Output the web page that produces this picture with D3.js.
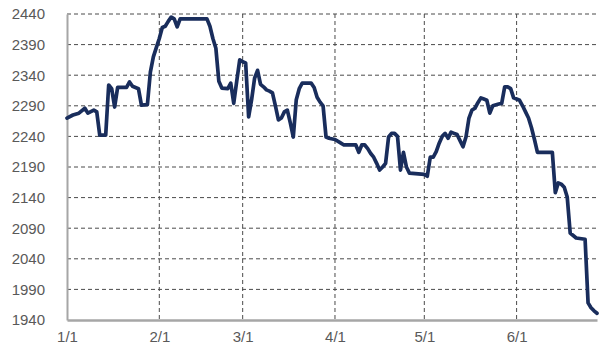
<!DOCTYPE html>
<html>
<head>
<meta charset="utf-8">
<script src="https://cdn.jsdelivr.net/npm/d3@7"></script>
<style>
  html, body { margin: 0; padding: 0; background: #ffffff; }
  svg { display: block; }
  .tick text { font-family: "Liberation Sans", Arial, sans-serif; font-size: 15px; fill: #595959; }
</style>
</head>
<body>
<svg id="chart" width="607" height="349"></svg>
<script>
// Daily closing level, first half of the year (MM-DD)
const dates = [
  "01-01","01-03","01-05","01-07","01-08","01-10","01-11","01-12","01-14","01-15",
  "01-16","01-17","01-18","01-21","01-22","01-23","01-25","01-26","01-28","01-29",
  "01-30","01-31","02-01","02-02","02-03","02-04","02-05","02-06","02-07","02-08",
  "02-17","02-18","02-19","02-20","02-21","02-22","02-24","02-25","02-26","02-27",
  "02-28","03-01","03-02","03-03","03-04","03-05","03-06","03-07","03-08","03-09",
  "03-10","03-11","03-12","03-13","03-14","03-15","03-16","03-17","03-18","03-19",
  "03-20","03-21","03-24","03-25","03-26","03-27","03-28","03-29","03-30","04-01",
  "04-03","04-04","04-08","04-09","04-10","04-11","04-12","04-13","04-14","04-15",
  "04-16","04-17","04-18","04-19","04-20","04-21","04-22","04-23","04-24","04-25",
  "04-26","05-01","05-02","05-03","05-04","05-05","05-06","05-07","05-08","05-09",
  "05-10","05-11","05-12","05-13","05-14","05-15","05-16","05-17","05-18","05-19",
  "05-20","05-21","05-22","05-23","05-24","05-26","05-27","05-28","05-29","05-30",
  "05-31","06-01","06-02","06-03","06-04","06-05","06-06","06-07","06-08","06-13",
  "06-14","06-15","06-16","06-17","06-18","06-19","06-20","06-21","06-24","06-25",
  "06-26","06-27","06-28"
];
const values = [
  2270,2275,2278,2286,2278,2283,2280,2242,2242,2324,
  2318,2288,2320,2320,2329,2322,2318,2291,2292,2345,
  2370,2385,2400,2418,2420,2428,2435,2432,2419,2432,
  2432,2420,2400,2384,2330,2319,2318,2327,2294,2330,
  2365,2362,2360,2272,2300,2335,2348,2325,2321,2316,
  2314,2311,2290,2267,2270,2280,2283,2262,2239,2300,
  2318,2327,2327,2320,2304,2296,2290,2239,2237,2235,
  2229,2226,2226,2214,2226,2226,2220,2212,2206,2196,
  2185,2190,2196,2239,2245,2245,2240,2185,2214,2190,
  2180,2178,2175,2206,2206,2215,2229,2240,2245,2237,
  2247,2245,2243,2233,2223,2239,2270,2283,2286,2295,
  2303,2301,2299,2278,2290,2293,2294,2321,2321,2318,
  2303,2301,2299,2290,2280,2270,2254,2235,2214,2214,
  2148,2164,2162,2157,2141,2082,2078,2074,2072,1968,
  1960,1955,1951
];
const yTicks = [1940,1990,2040,2090,2140,2190,2240,2290,2340,2390,2440];
const xTickLabels = ["1/1","2/1","3/1","4/1","5/1","6/1"];

const year = 2019;
const parse = d3.timeParse("%Y-%m-%d");
const data = dates.map((d, i) => ({ date: parse(year + "-" + d), value: values[i] }));
const monthStarts = xTickLabels.map(s => {
  const [m, d] = s.split("/").map(Number);
  return new Date(year, m - 1, d);
});

const margin = { left: 67, right: 10, top: 14, bottom: 29 };
const W = 607, H = 349;
const svg = d3.select("#chart");

const x = d3.scaleTime()
  .domain([new Date(year, 0, 1), new Date(year, 5, 28)])
  .range([margin.left, W - margin.right]);
const y = d3.scaleLinear()
  .domain([1940, 2440])
  .range([H - margin.bottom, margin.top]);

// Horizontal dashed gridlines
svg.append("g")
  .selectAll("line")
  .data(yTicks.slice(1))
  .join("line")
  .attr("x1", margin.left).attr("x2", W - margin.right)
  .attr("y1", d => y(d)).attr("y2", d => y(d))
  .attr("stroke", "#4a4a4a").attr("stroke-width", 1)
  .attr("stroke-dasharray", "4,3");

// Vertical dashed gridlines at month starts
svg.append("g")
  .selectAll("line")
  .data(monthStarts.slice(1))
  .join("line")
  .attr("x1", d => x(d)).attr("x2", d => x(d))
  .attr("y1", margin.top).attr("y2", H - margin.bottom)
  .attr("stroke", "#4a4a4a").attr("stroke-width", 1)
  .attr("stroke-dasharray", "4,3");

// Y axis
const yAxis = svg.append("g")
  .attr("transform", `translate(${margin.left},0)`)
  .call(d3.axisLeft(y).tickValues(yTicks).tickSize(0).tickPadding(22).tickFormat(d3.format("d")));
yAxis.select(".domain").attr("stroke", "#a6a6a6").attr("stroke-width", 2);

// X axis
const xAxis = svg.append("g")
  .attr("transform", `translate(0,${H - margin.bottom})`)
  .call(d3.axisBottom(x).tickValues(monthStarts).tickSize(0).tickPadding(11)
    .tickFormat((d, i) => xTickLabels[i]));
xAxis.select(".domain").attr("stroke", "#a6a6a6").attr("stroke-width", 2.5);

// Price line
const line = d3.line()
  .x(d => x(d.date))
  .y(d => y(d.value));

svg.append("path")
  .datum(data)
  .attr("fill", "none")
  .attr("stroke", "#192d5c")
  .attr("stroke-width", 3.7)
  .attr("stroke-linejoin", "round")
  .attr("stroke-linecap", "round")
  .attr("d", line);
</script>
</body>
</html>
